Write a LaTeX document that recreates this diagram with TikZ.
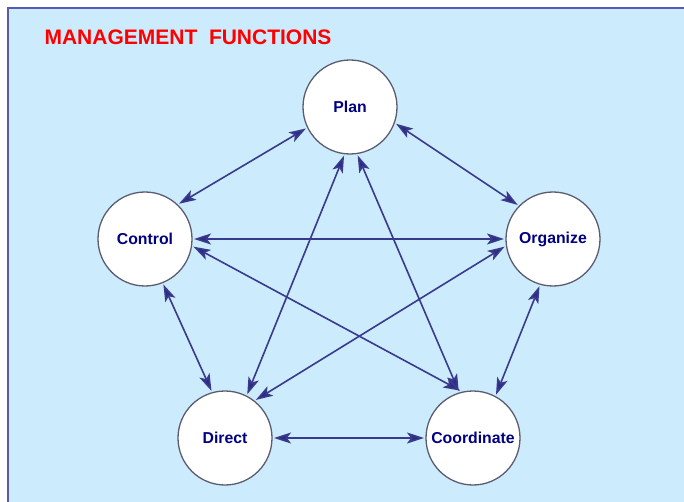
\documentclass[tikz,border=0pt]{standalone}
\usepackage{fontspec}
\setmainfont{Liberation Sans}
\usetikzlibrary{arrows.meta}
\definecolor{bgblue}{HTML}{CCEBFC}
\definecolor{frameblue}{HTML}{5A5AB4}
\definecolor{linkblue}{HTML}{3A3A8C}
\definecolor{headblue}{HTML}{2C2C84}
\definecolor{navytext}{HTML}{000080}
\definecolor{ringgray}{HTML}{5C5C70}
\tikzset{
  func/.style={circle, draw=ringgray, line width=1.3pt, fill=white,
    minimum size=94pt, inner sep=0pt, outer sep=2pt,
    font=\fontsize{15.8}{18}\selectfont\bfseries, text=navytext},
  link/.style={draw=linkblue, line width=1.6pt, {Stealth[length=17pt,width=11pt,inset=4pt,fill=headblue]}-{Stealth[length=17pt,width=11pt,inset=4pt,fill=headblue]}},
  titletext/.style={font=\fontsize{21}{25}\selectfont\bfseries, text=red, anchor=base west}
}
\begin{document}
\begin{tikzpicture}[x=1pt,y=-1pt]
\useasboundingbox (0,0) rectangle (684,502);
\fill[bgblue] (8,8) rectangle (684,502);
\draw[frameblue, line width=1.2pt] (8,502) -- (8,8) -- (684,8);
\node[titletext] (title) at (41,45) {MANAGEMENT\ \ FUNCTIONS};
\node[func] (plan) at (350,107) {Plan};
\node[func] (control) at (145,239) {Control};
\node[func] (organize) at (553,239) {Organize};
\node[func] (direct) at (225,438) {Direct};
\node[func] (coord) at (473,438) {Coordinate};
\draw[link] (plan.-154) -- (control.46);
\draw[link] (plan.-20) -- (organize.136);
\draw[link] (control.0) -- (organize.180);
\draw[link] (control.-68) -- (direct.106);
\draw[link] (organize.-106) -- (coord.62);
\draw[link] (direct.0) -- (coord.180);
\draw[link] (plan.-97) -- (direct.63);
\draw[link] (plan.-81) -- (coord.107);
\draw[link] (control.-9) -- (coord.105);
\draw[link] (organize.-171) -- (direct.51);
\end{tikzpicture}
\end{document}
